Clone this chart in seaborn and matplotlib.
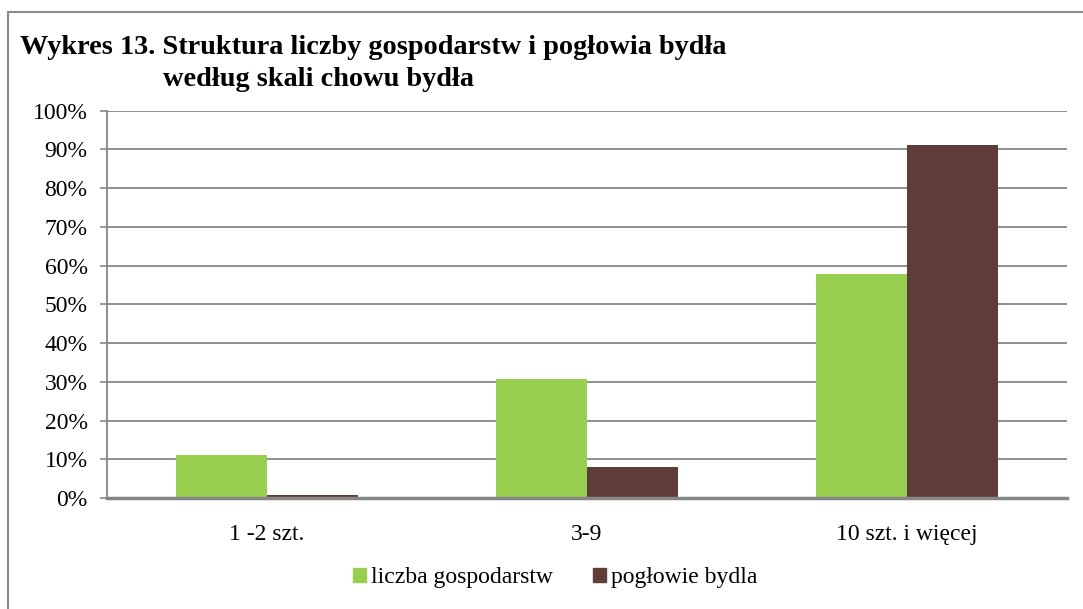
import matplotlib
matplotlib.use("Agg")
import matplotlib.pyplot as plt
import matplotlib.patches as mpatches
import pandas as pd
import seaborn as sns

categories = ["1 -2 szt.", "3-9", "10 szt. i więcej"]
series_names = ["liczba gospodarstw", "pogłowie bydla"]
liczba_gospodarstw = [11.1, 30.6, 57.8]
poglowie_bydla = [0.7, 8.1, 91.1]
y_ticks = [0, 10, 20, 30, 40, 50, 60, 70, 80, 90, 100]

colors = ["#99CF50", "#5E3D38"]

df = pd.DataFrame({
    "kategoria": categories * 2,
    "seria": [series_names[0]] * 3 + [series_names[1]] * 3,
    "wartosc": liczba_gospodarstw + poglowie_bydla,
})

sns.set_style("white")
plt.rcParams["font.family"] = ["Liberation Serif", "DejaVu Serif"]
plt.rcParams["text.color"] = "black"
plt.rcParams["xtick.color"] = "black"
plt.rcParams["ytick.color"] = "black"

fig = plt.figure(figsize=(10.83, 6.09), dpi=100)
ax = fig.add_axes([107 / 1083, 1 - 498 / 609, 960 / 1083, 387.3 / 609])

sns.barplot(data=df, x="kategoria", y="wartosc", hue="seria", order=categories,
            hue_order=series_names, palette=colors, width=0.57, saturation=1,
            edgecolor="none", ax=ax, legend=False)

ax.set_ylim(0, 100)
ax.set_xlim(-0.5, 2.5)
ax.set_yticks(y_ticks)
ax.set_yticklabels([f"{t}%" for t in y_ticks], fontsize=17)
ax.tick_params(axis="x", labelsize=17, length=0, pad=19)
ax.tick_params(axis="y", length=5, width=1.2, color="#868686", pad=9, left=True)
ax.set_xlabel("")
ax.set_ylabel("")
ax.grid(axis="y", color="#868686", linewidth=1.3)
ax.set_axisbelow(True)
for s in ["top", "right"]:
    ax.spines[s].set_visible(False)
ax.spines["left"].set_color("#868686")
ax.spines["left"].set_linewidth(1.3)
ax.spines["bottom"].set_color("#868686")
ax.spines["bottom"].set_linewidth(2.5)

handles = [mpatches.Patch(color=c, label=n) for c, n in zip(colors, series_names)]
fig.legend(handles=handles, loc="center", bbox_to_anchor=(555 / 1083, 1 - 578 / 609),
           ncol=2, frameon=False, fontsize=17, handlelength=0.55, handleheight=0.55,
           handletextpad=0.2, columnspacing=1.7)

fig.text(20 / 1083, 1 - 47 / 609, "Wykres 13. Struktura liczby gospodarstw i pogłowia bydła",
         fontsize=20.3, fontweight="bold", va="center", ha="left")
fig.text(163 / 1083, 1 - 80 / 609, "według skali chowu bydła",
         fontsize=20.3, fontweight="bold", va="center", ha="left")

fig.patches.append(mpatches.Rectangle((8 / 1083, -0.1), 1.2, 1 - 12 / 609 + 0.1,
                                      transform=fig.transFigure, fill=False,
                                      edgecolor="#8c8c8c", linewidth=1.5))

fig.savefig("out.png", dpi=100)
